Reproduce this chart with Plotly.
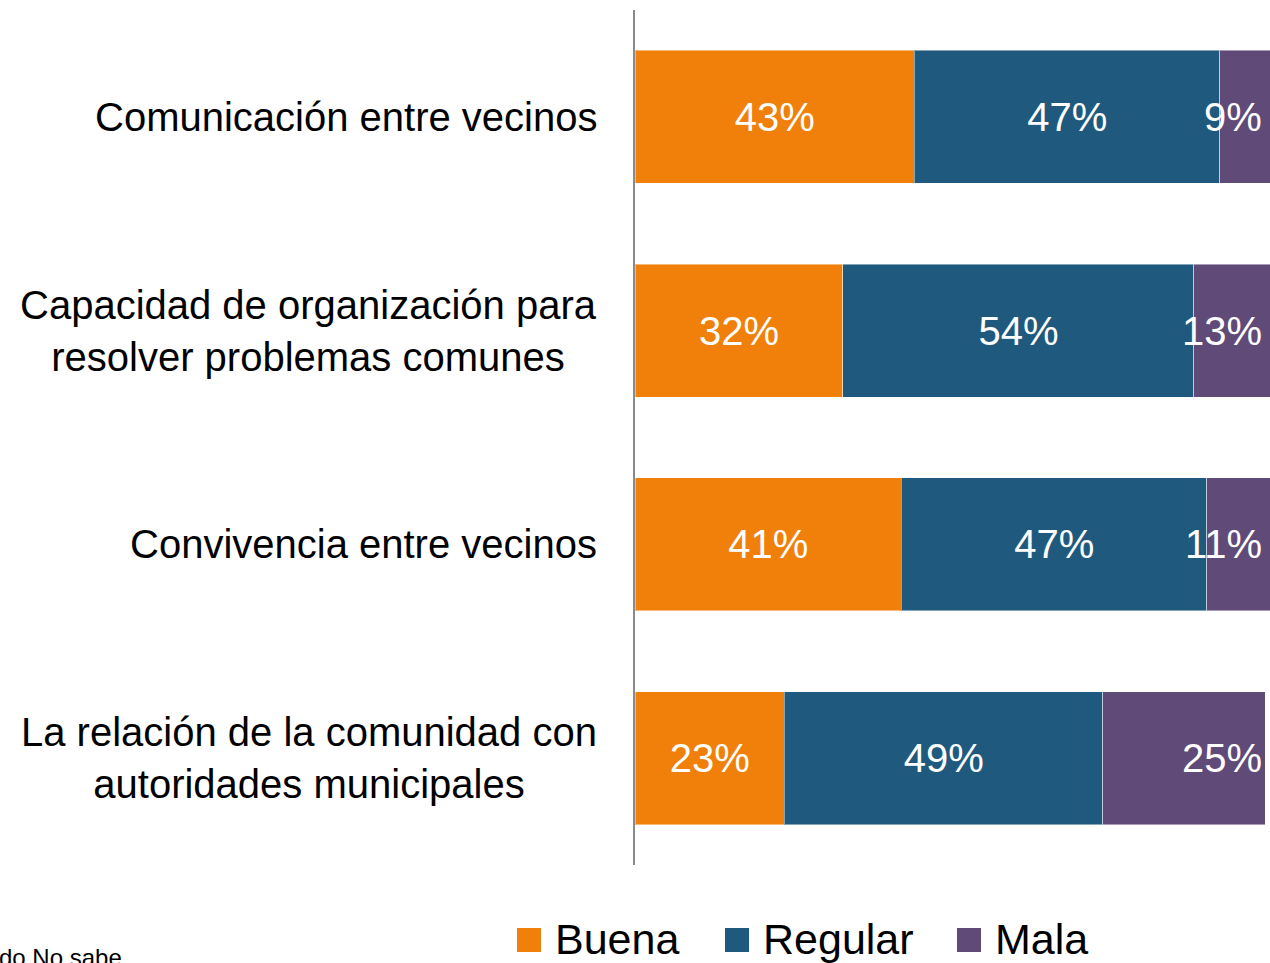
import plotly.graph_objects as go

# ---------------- data ----------------
categories = [
    "Comunicación entre vecinos",
    "Capacidad de organización para<br>resolver problemas comunes",
    "Convivencia entre vecinos",
    "La relación de la comunidad con<br>autoridades municipales",
]
buena = [43, 32, 41, 23]
regular = [47, 54, 47, 49]
mala = [9, 13, 11, 25]
series_names = ["Buena", "Regular", "Mala"]
footnote = "do No sabe"

# ---------------- style / layout ----------------
colors = ["#F0800A", "#1F5A7E", "#604A78"]
FONT = "Liberation Sans, Arial, sans-serif"
W, H = 1270, 963
ML, MR, MT, MB = 635, 0, 10, 98
X_MAX = 97.7  # visible part of the 0-100 scale (chart is cropped at the right)


def px_x(px):
    return (px - ML) / (W - ML - MR)


def px_y(py):
    return (H - MB - py) / (H - MT - MB)


fig = go.Figure()
edge = dict(color="rgba(255,255,255,0.45)", width=1)
for name, vals, col in zip(series_names, [buena, regular, mala], colors):
    show_text = name != "Mala"
    fig.add_trace(go.Bar(
        y=categories, x=vals, orientation="h", name=name,
        marker=dict(color=col, line=edge),
        text=[f"{v}%" for v in vals] if show_text else None,
        textposition="inside" if show_text else "none",
        insidetextanchor="middle",
        textfont=dict(family=FONT, size=40, color="white"),
        showlegend=False,
        hoverinfo="skip",
    ))

annotations = []
# category labels (centered multi-line, right-aligned block)
for c in categories:
    annotations.append(dict(
        x=0, xref="paper", y=c, yref="y", xanchor="right", yanchor="middle",
        xshift=-36, text=c, align="center", showarrow=False,
        font=dict(family=FONT, size=40, color="black"),
    ))
# labels of the clipped "Mala" segments, kept inside the visible area
for c, v in zip(categories, mala):
    annotations.append(dict(
        x=X_MAX, xref="x", y=c, yref="y", xanchor="right", yanchor="middle",
        xshift=-6, text=f"{v}%", showarrow=False,
        font=dict(family=FONT, size=40, color="white"),
    ))

# manual legend (large square swatches)
legend_left = [517, 725, 957]
SW = 24
SW_TOP = 928
shapes = []
for name, col, lx in zip(series_names, colors, legend_left):
    shapes.append(dict(
        type="rect", xref="paper", yref="paper",
        x0=px_x(lx), x1=px_x(lx + SW), y0=px_y(SW_TOP + SW), y1=px_y(SW_TOP),
        fillcolor=col, line=dict(width=0),
    ))
    annotations.append(dict(
        x=px_x(lx + 36), xref="paper", y=px_y(913), yref="paper",
        xanchor="left", yanchor="top", text=name, showarrow=False,
        font=dict(family=FONT, size=43, color="black"),
    ))

annotations.append(dict(
    x=px_x(-3), xref="paper", y=px_y(942), yref="paper",
    xanchor="left", yanchor="top", text=footnote, showarrow=False,
    font=dict(family=FONT, size=24, color="black"),
))

fig.update_layout(
    width=W, height=H,
    margin=dict(l=ML, r=MR, t=MT, b=MB, pad=0),
    barmode="stack", bargap=0.378,
    paper_bgcolor="white", plot_bgcolor="white",
    xaxis=dict(range=[0, X_MAX], visible=False, fixedrange=True),
    yaxis=dict(
        autorange="reversed", showticklabels=False, ticks="",
        showgrid=False, zeroline=False, fixedrange=True,
        showline=True, linecolor="#8a8a8a", linewidth=1.5,
        layer="below traces",
    ),
    annotations=annotations, shapes=shapes,
    showlegend=False,
    font=dict(family=FONT),
)

fig.write_html(
    "out.html",
    config={"displayModeBar": False},
    post_script="document.body.style.margin='0';document.body.style.overflow='hidden';",
)
